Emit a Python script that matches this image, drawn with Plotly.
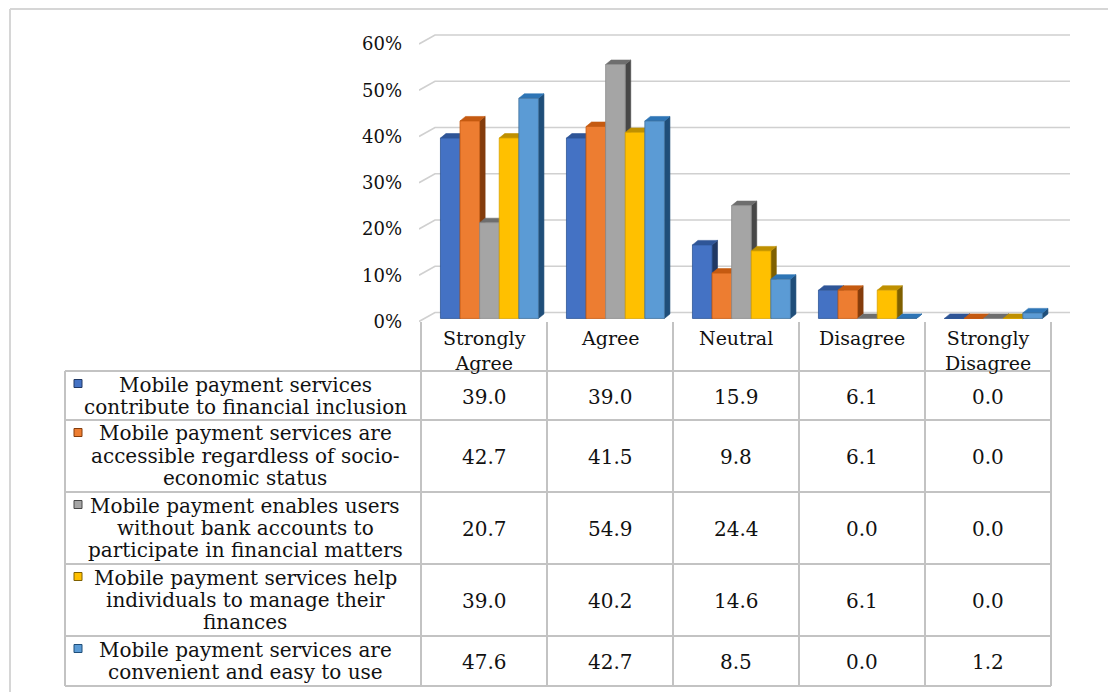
import plotly.graph_objects as go

# ---- data -------------------------------------------------------------
categories = ["Strongly Agree", "Agree", "Neutral", "Disagree", "Strongly Disagree"]
header_lines = [["Strongly", "Agree"], ["Agree"], ["Neutral"], ["Disagree"], ["Strongly", "Disagree"]]

series_names = [
    "Mobile payment services contribute to financial inclusion",
    "Mobile payment services are accessible regardless of socio-economic status",
    "Mobile payment enables users without bank accounts to participate in financial matters",
    "Mobile payment services help individuals to manage their finances",
    "Mobile payment services are convenient and easy to use",
]
series_lines = [
    ["Mobile payment services", "contribute to financial inclusion"],
    ["Mobile payment services are", "accessible regardless of socio-", "economic status"],
    ["Mobile payment enables users", "without bank accounts to", "participate in financial matters"],
    ["Mobile payment services help", "individuals to manage their", "finances"],
    ["Mobile payment services are", "convenient and easy to use"],
]

inclusion = [39.0, 39.0, 15.9, 6.1, 0.0]
accessible = [42.7, 41.5, 9.8, 6.1, 0.0]
unbanked = [20.7, 54.9, 24.4, 0.0, 0.0]
manage_finances = [39.0, 40.2, 14.6, 6.1, 0.0]
convenient = [47.6, 42.7, 8.5, 0.0, 1.2]
series_values = [inclusion, accessible, unbanked, manage_finances, convenient]

y_ticks = [0, 10, 20, 30, 40, 50, 60]
y_tick_labels = ["0%", "10%", "20%", "30%", "40%", "50%", "60%"]

# ---- styling ----------------------------------------------------------
front_colors = ["#4472C4", "#ED7D31", "#A5A5A5", "#FFC000", "#5B9BD5"]
top_colors = ["#2F5597", "#C55A11", "#6E6E6E", "#BF9000", "#2E75B6"]
side_colors = ["#203864", "#843C0C", "#474747", "#7F6000", "#1F4E79"]
edge_colors = ["#2F5597", "#C55A11", "#8C8C8C", "#D9A300", "#41719C"]

FONT = "DejaVu Serif"
W, H = 1108, 692

# pixel geometry of the chart / table
COL_LEFT = 421          # left edge of first data column
COL_W = 126             # width of each category column
TABLE_LEFT = 65
TABLE_RIGHT = COL_LEFT + COL_W * len(categories)
HEADER_TOP = 322
ROW_EDGES = [371, 420, 492, 564, 636, 686]
Y0_PX = 321.5           # pixel row of 0 % on the front plane
PX_PER_PCT = 4.625
PLOT_LEFT_PX = 419
GRID_RIGHT_PX = 1070

# 3-D offsets (pixels)
WALL_DX, WALL_DY = 16, 9        # front plane -> back wall
BAR_PLANE = 0.34                # bars stand between front and back
BAR_W_PX = 19.6
BAR_DX, BAR_DY = 5.5, 4.5


def ux(px):  # pixel width -> category units
    return px / COL_W


def uy(px):  # pixel height -> percent units
    return px / PX_PER_PCT


def col_center_px(i):
    return COL_LEFT + COL_W / 2 + COL_W * i


def xp(px):
    return px / W


def yp(py):
    return 1 - py / H


fig = go.Figure()

# ---- gridlines on the back wall, with the perspective step on the left ----
x_first = (PLOT_LEFT_PX - col_center_px(0)) / COL_W
x_last = (GRID_RIGHT_PX - col_center_px(0)) / COL_W
gx, gy = [], []
for t in y_ticks:
    gx += [x_first, x_first + ux(WALL_DX), x_last, None]
    gy += [t, t + uy(WALL_DY), t + uy(WALL_DY), None]
fig.add_trace(go.Scatter(x=gx, y=gy, mode="lines", line=dict(color="#D0D0D0", width=1.6),
                         hoverinfo="skip", showlegend=False))

# ---- 3-D clustered columns ---------------------------------------------
bw = ux(BAR_W_PX)
bdx, bdy = ux(BAR_DX), uy(BAR_DY)
plane_dx, plane_dy = ux(WALL_DX * BAR_PLANE), uy(WALL_DY * BAR_PLANE)
n_series = len(series_values)

for s, vals in enumerate(series_values):
    sx, sy, tx, ty, fx, fy = [], [], [], [], [], []
    for i, v in enumerate(vals):
        x0 = i + plane_dx + (s - n_series / 2) * bw
        x1 = x0 + bw
        b = plane_dy
        top = plane_dy + v
        # side face
        sx += [x1, x1 + bdx, x1 + bdx, x1, x1, None]
        sy += [b, b + bdy, top + bdy, top, b, None]
        # top face
        tx += [x0, x0 + bdx, x1 + bdx, x1, x0, None]
        ty += [top, top + bdy, top + bdy, top, top, None]
        # front face
        fx += [x0, x1, x1, x0, x0, None]
        fy += [b, b, top, top, b, None]
    fig.add_trace(go.Scatter(x=sx, y=sy, mode="lines", fill="toself", fillcolor=side_colors[s],
                             line=dict(color=side_colors[s], width=0.6),
                             hoverinfo="skip", showlegend=False))
    fig.add_trace(go.Scatter(x=tx, y=ty, mode="lines", fill="toself", fillcolor=top_colors[s],
                             line=dict(color=top_colors[s], width=0.6),
                             hoverinfo="skip", showlegend=False))
    fig.add_trace(go.Scatter(x=fx, y=fy, mode="lines", fill="toself", fillcolor=front_colors[s],
                             line=dict(color=edge_colors[s], width=0.8),
                             name=series_names[s], hoverinfo="skip", showlegend=False))

# ---- data table -------------------------------------------------------
shapes = []
line_style = dict(color="#C3C3C3", width=2)


def hline(y, x0, x1):
    shapes.append(dict(type="line", xref="paper", yref="paper",
                       x0=xp(x0), x1=xp(x1), y0=yp(y), y1=yp(y), line=line_style))


def vline(x, y0, y1):
    shapes.append(dict(type="line", xref="paper", yref="paper",
                       x0=xp(x), x1=xp(x), y0=yp(y0), y1=yp(y1), line=line_style))


for k in range(len(categories) + 1):
    vline(COL_LEFT + COL_W * k, HEADER_TOP, ROW_EDGES[-1])
vline(TABLE_LEFT, ROW_EDGES[0], ROW_EDGES[-1])
for y in ROW_EDGES:
    hline(y, TABLE_LEFT, TABLE_RIGHT)

# outer frame
frame = dict(color="#D6D6D6", width=2)
shapes.append(dict(type="line", xref="paper", yref="paper", x0=xp(10), x1=xp(W + 2),
                   y0=yp(9), y1=yp(9), line=frame))
shapes.append(dict(type="line", xref="paper", yref="paper", x0=xp(10), x1=xp(10),
                   y0=yp(9), y1=yp(H + 2), line=frame))

annotations = []


def label(text, x, y, size=20, yanchor="middle"):
    annotations.append(dict(text=text, xref="paper", yref="paper", x=xp(x), y=yp(y),
                            xanchor="center", yanchor=yanchor, showarrow=False,
                            font=dict(family=FONT, size=size, color="#111111")))


# category header: one text block per column, lines stacked from the top
for i, lines in enumerate(header_lines):
    label("<br>".join(lines), col_center_px(i), 325, size=19, yanchor="top")

# series rows: legend key, wrapped name, values
LABEL_CX = 245
for s, lines in enumerate(series_lines):
    top = ROW_EDGES[s]
    bottom = ROW_EDGES[s + 1]
    first = top + 13.5
    for k, ln in enumerate(lines):
        label(ln, LABEL_CX, first + 22 * k)
    shapes.append(dict(type="rect", xref="paper", yref="paper",
                       x0=xp(74), x1=xp(82), y0=yp(first - 5), y1=yp(first + 3),
                       fillcolor=front_colors[s], line=dict(color=side_colors[s], width=1)))
    for i, v in enumerate(series_values[s]):
        label(f"{v:.1f}", col_center_px(i), (top + bottom) / 2 + 1)

fig.update_layout(
    width=W, height=H, autosize=False,
    margin=dict(l=0, r=0, t=0, b=0),
    paper_bgcolor="white", plot_bgcolor="rgba(0,0,0,0)",
    shapes=shapes, annotations=annotations, showlegend=False,
    xaxis=dict(domain=[xp(PLOT_LEFT_PX), 1],
               range=[x_first, (W - col_center_px(0)) / COL_W],
               showgrid=False, zeroline=False, showticklabels=False, showline=False,
               fixedrange=True),
    yaxis=dict(domain=[0, 1],
               range=[(Y0_PX - H) / PX_PER_PCT, Y0_PX / PX_PER_PCT],
               tickvals=y_ticks, ticktext=y_tick_labels, ticks="",
               ticklabelstandoff=16,
               tickfont=dict(family=FONT, size=18, color="#111111"),
               showgrid=False, zeroline=False, showline=False, fixedrange=True),
)

fig.write_html("out.html")
